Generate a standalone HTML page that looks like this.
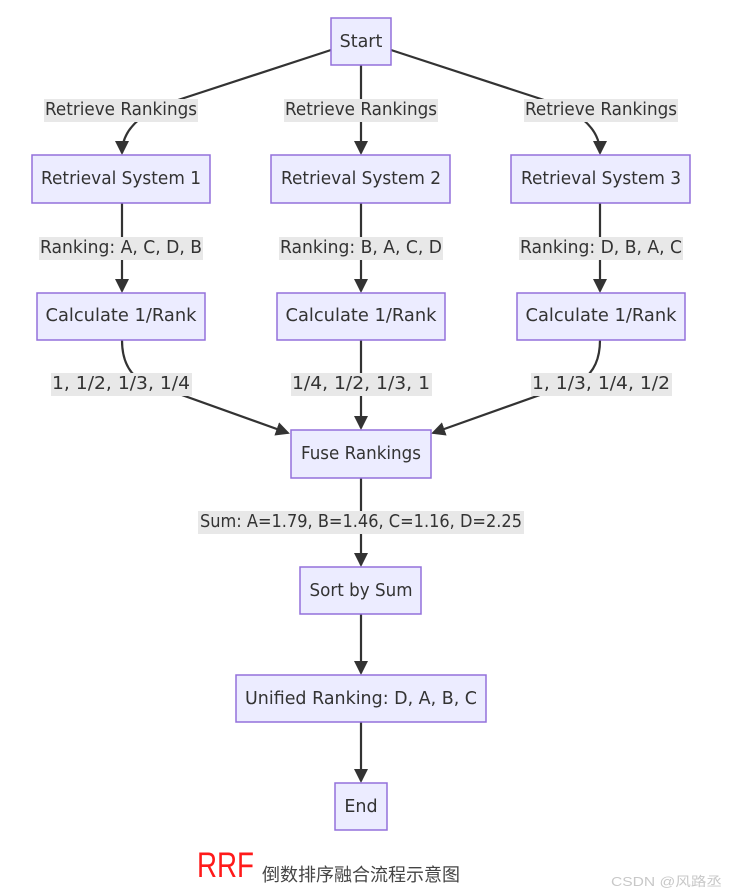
<!DOCTYPE html>
<html><head><meta charset="utf-8"><style>
html,body{margin:0;padding:0;background:#fff;width:732px;height:894px;overflow:hidden}
svg{display:block}
.n{fill:#ECECFF;stroke:#9370DB;stroke-width:1.5}
.t{font-family:"DejaVu Sans","Liberation Sans",sans-serif;font-size:17.5px;fill:#333;text-anchor:middle;dominant-baseline:central}
.lb{fill:#e8e8e8}
.e{fill:none;stroke:#333;stroke-width:2.2}
</style></head><body>
<svg width="732" height="894" viewBox="0 0 732 894" xmlns="http://www.w3.org/2000/svg">
<defs><marker id="a" markerWidth="14" markerHeight="14" refX="12" refY="7" orient="auto" markerUnits="userSpaceOnUse"><path d="M0,0 L14,7 L0,14 z" fill="#333"/></marker></defs>
<path class="e" d="M331,50 L178,100 Q122,118 122,153" marker-end="url(#a)"/>
<path class="e" d="M361,65 L361,153" marker-end="url(#a)"/>
<path class="e" d="M391,50 L544,100 Q600,118 600,153" marker-end="url(#a)"/>
<path class="e" d="M122,203 L122,291" marker-end="url(#a)"/>
<path class="e" d="M361,203 L361,291" marker-end="url(#a)"/>
<path class="e" d="M600,203 L600,291" marker-end="url(#a)"/>
<path class="e" d="M122,340 Q122,368 140,380 L288,433" marker-end="url(#a)"/>
<path class="e" d="M361,340 L361,428" marker-end="url(#a)"/>
<path class="e" d="M600,340 Q600,368 582,380 L433,433" marker-end="url(#a)"/>
<path class="e" d="M361,478 L361,565" marker-end="url(#a)"/>
<path class="e" d="M361,614 L361,673" marker-end="url(#a)"/>
<path class="e" d="M361,722 L361,781" marker-end="url(#a)"/>
<rect class="lb" x="44" y="99" width="154" height="23"/><text class="t" x="121" y="110" textLength="152" lengthAdjust="spacingAndGlyphs">Retrieve Rankings</text>
<rect class="lb" x="284" y="99" width="154" height="23"/><text class="t" x="361" y="110" textLength="152" lengthAdjust="spacingAndGlyphs">Retrieve Rankings</text>
<rect class="lb" x="524" y="99" width="154" height="23"/><text class="t" x="601" y="110" textLength="152" lengthAdjust="spacingAndGlyphs">Retrieve Rankings</text>
<rect class="lb" x="39" y="237" width="164" height="23"/><text class="t" x="121" y="248" textLength="162" lengthAdjust="spacingAndGlyphs">Ranking: A, C, D, B</text>
<rect class="lb" x="279" y="237" width="164" height="23"/><text class="t" x="361" y="248" textLength="162" lengthAdjust="spacingAndGlyphs">Ranking: B, A, C, D</text>
<rect class="lb" x="519" y="237" width="164" height="23"/><text class="t" x="601" y="248" textLength="162" lengthAdjust="spacingAndGlyphs">Ranking: D, B, A, C</text>
<rect class="lb" x="51" y="373" width="141" height="23"/><text class="t" x="121" y="384" textLength="138" lengthAdjust="spacingAndGlyphs">1, 1/2, 1/3, 1/4</text>
<rect class="lb" x="291" y="373" width="141" height="23"/><text class="t" x="361" y="384" textLength="138" lengthAdjust="spacingAndGlyphs">1/4, 1/2, 1/3, 1</text>
<rect class="lb" x="531" y="373" width="141" height="23"/><text class="t" x="601" y="384" textLength="138" lengthAdjust="spacingAndGlyphs">1, 1/3, 1/4, 1/2</text>
<rect class="lb" x="198" y="511" width="326" height="23"/><text class="t" x="361" y="522" textLength="322" lengthAdjust="spacingAndGlyphs">Sum: A=1.79, B=1.46, C=1.16, D=2.25</text>
<rect class="n" x="331" y="18" width="60" height="47"/><text class="t" x="361" y="42">Start</text>
<rect class="n" x="32" y="155" width="178" height="48"/><text class="t" x="121" y="179" textLength="160" lengthAdjust="spacingAndGlyphs">Retrieval System 1</text>
<rect class="n" x="271" y="155" width="179" height="48"/><text class="t" x="361" y="179" textLength="160" lengthAdjust="spacingAndGlyphs">Retrieval System 2</text>
<rect class="n" x="511" y="155" width="179" height="48"/><text class="t" x="601" y="179" textLength="160" lengthAdjust="spacingAndGlyphs">Retrieval System 3</text>
<rect class="n" x="37" y="293" width="168" height="47"/><text class="t" x="121" y="316" textLength="151" lengthAdjust="spacingAndGlyphs">Calculate 1/Rank</text>
<rect class="n" x="277" y="293" width="168" height="47"/><text class="t" x="361" y="316" textLength="151" lengthAdjust="spacingAndGlyphs">Calculate 1/Rank</text>
<rect class="n" x="517" y="293" width="168" height="47"/><text class="t" x="601" y="316" textLength="151" lengthAdjust="spacingAndGlyphs">Calculate 1/Rank</text>
<rect class="n" x="291" y="430" width="140" height="48"/><text class="t" x="361" y="454" textLength="120" lengthAdjust="spacingAndGlyphs">Fuse Rankings</text>
<rect class="n" x="300" y="567" width="121" height="47"/><text class="t" x="361" y="591" textLength="103" lengthAdjust="spacingAndGlyphs">Sort by Sum</text>
<rect class="n" x="236" y="675" width="250" height="47"/><text class="t" x="361" y="699" textLength="232" lengthAdjust="spacingAndGlyphs">Unified Ranking: D, A, B, C</text>
<rect class="n" x="335" y="783" width="52" height="47"/><text class="t" x="361" y="807">End</text>
<text x="197" y="877" textLength="57" lengthAdjust="spacingAndGlyphs" style="font-family:'Liberation Sans',sans-serif;font-size:35px;fill:#ff1a1a">RRF</text>
<text x="262" y="881" textLength="198" lengthAdjust="spacingAndGlyphs" style="font-family:'Liberation Sans','Noto Sans CJK SC',sans-serif;font-size:18px;fill:#444">倒数排序融合流程示意图</text>
<text x="611" y="886" textLength="111" lengthAdjust="spacingAndGlyphs" style="font-family:'Liberation Sans','Noto Sans CJK SC',sans-serif;font-size:13px;fill:#c8c8c8">CSDN @风路丞</text>
</svg>
</body></html>
